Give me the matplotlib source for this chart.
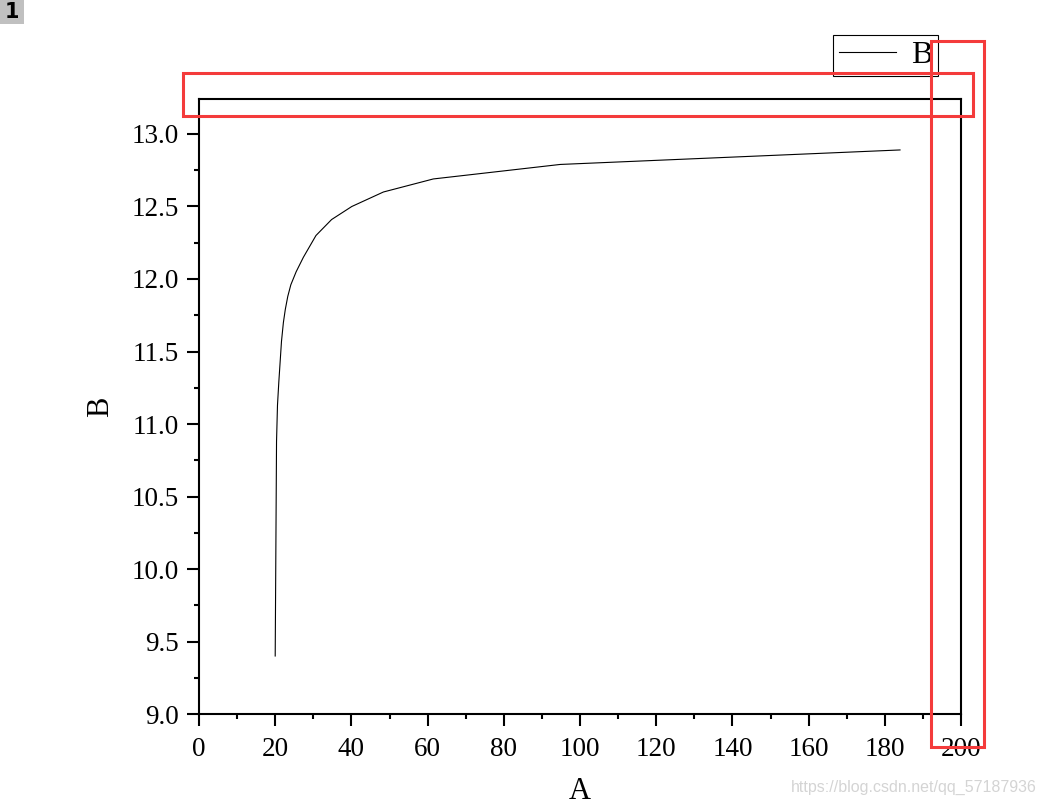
import matplotlib
matplotlib.use("Agg")
import matplotlib.pyplot as plt
from matplotlib.patches import Rectangle
from matplotlib.ticker import MultipleLocator, FormatStrFormatter

# ---- data ----
x_vals = [20.0, 20.35, 20.6, 20.95, 21.3, 21.65, 22.15, 22.65, 23.3, 24.1,
          25.5, 27.4, 30.7, 34.8, 40.1, 48.4, 61.5, 94.8, 184.0]
b_vals = [9.40, 10.88, 11.13, 11.29, 11.43, 11.57, 11.70, 11.79, 11.88, 11.96,
          12.05, 12.15, 12.30, 12.41, 12.50, 12.60, 12.69, 12.79, 12.89]
series_name = "B"
x_label = "A"
y_label = "B"
badge_text = "1"
watermark = "https://blog.csdn.net/qq_57187936"

W, H = 1047, 805
DPI = 100
plt.rcParams['font.family'] = ['Liberation Serif', 'DejaVu Serif']

fig = plt.figure(figsize=(W / DPI, H / DPI), dpi=DPI)
fig.patch.set_facecolor('white')

def fx(px):
    return px / W

def fy(py):
    return 1 - py / H

ax_l, ax_r, ax_t, ax_b = 199, 961, 99, 714
ax = fig.add_axes([fx(ax_l), fy(ax_b), fx(ax_r - ax_l), (ax_b - ax_t) / H])

line, = ax.plot(x_vals, b_vals, color='black', lw=0.8, label=series_name)

ax.set_xlim(0, 200)
ax.set_ylim(9.0, 9.0 + (ax_b - ax_t) / 145.0)
ax.xaxis.set_major_locator(MultipleLocator(20))
ax.xaxis.set_minor_locator(MultipleLocator(10))
ax.yaxis.set_major_locator(MultipleLocator(0.5))
ax.yaxis.set_minor_locator(MultipleLocator(0.25))
ax.yaxis.set_major_formatter(FormatStrFormatter('%.1f'))

for s in ax.spines.values():
    s.set_linewidth(1.5)
ax.tick_params(which='major', direction='out', length=8.6, width=1.5,
               labelsize=19.5, top=False, right=False)
ax.tick_params(axis='x', which='major', pad=8)
ax.tick_params(axis='y', which='major', pad=6)
ax.tick_params(which='minor', direction='out', length=3.6, width=1.5,
               top=False, right=False)

ax.set_xlabel(x_label, fontsize=22, labelpad=11)
ax.set_ylabel(y_label, fontsize=22, labelpad=12)

leg = fig.legend(handles=[line], loc='upper left',
                 bbox_to_anchor=(fx(833), fy(35)), bbox_transform=fig.transFigure,
                 fontsize=23, frameon=True, fancybox=False, framealpha=1,
                 edgecolor='black', borderpad=0.18, borderaxespad=0,
                 handlelength=1.8, handletextpad=0.45)
leg.get_frame().set_linewidth(0.8)

# red annotation rectangles drawn on the original screenshot
red = '#F43B3B'
for (l, t, r, b) in [(182.5, 73, 972.5, 116), (930.5, 41.5, 983.5, 747)]:
    fig.patches.append(Rectangle((fx(l), fy(b)), fx(r - l), (b - t) / H,
                                 transform=fig.transFigure, fill=False,
                                 edgecolor=red, lw=2.2, zorder=10))

# badge "1" at the top-left
fig.patches.append(Rectangle((0, fy(24)), fx(24), 24 / H, transform=fig.transFigure,
                             facecolor='#C0C0C0', edgecolor='none', zorder=9))
fig.text(fx(12), fy(12.5), badge_text, ha='center', va='center', fontsize=15,
         fontweight='bold', family='DejaVu Sans', color='black', zorder=11)

# watermark
fig.text(fx(1037), fy(787), watermark, ha='right', va='center', fontsize=11.5,
         family='Liberation Sans', color='#D4D4D4')

fig.savefig('out.png', dpi=DPI)
